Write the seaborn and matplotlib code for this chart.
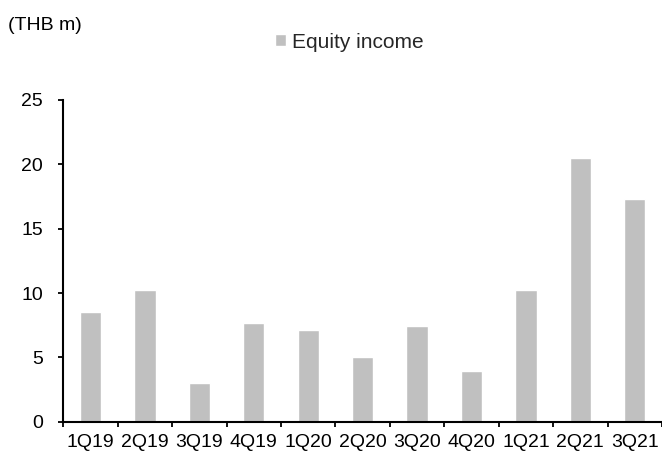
import numpy as np
import pandas as pd
import matplotlib
matplotlib.use("Agg")
import matplotlib.pyplot as plt
import seaborn as sns

quarters = ["1Q19", "2Q19", "3Q19", "4Q19", "1Q20", "2Q20", "3Q20", "4Q20", "1Q21", "2Q21", "3Q21"]
equity_income = [8.5, 10.2, 3.0, 7.7, 7.1, 5.0, 7.4, 3.9, 10.2, 20.5, 17.3]
y_ticks = [0, 5, 10, 15, 20, 25]

sns.set_theme(style="white")
plt.rcParams["font.family"] = ["Liberation Sans", "DejaVu Sans"]

df = pd.DataFrame({"quarter": quarters, "value": equity_income})

fig = plt.figure(figsize=(6.62, 4.58), dpi=100)
ax = fig.add_axes([0.0957, 0.0793, 0.9043, 0.7024])

sns.barplot(data=df, x="quarter", y="value", color="#C0C0C0", width=0.39,
            saturation=1, label="Equity income", ax=ax)

ax.set_xlim(-0.5, len(quarters) - 0.5)
ax.set_ylim(0, 25)
ax.set_yticks(y_ticks)
ax.set_xlabel("")
ax.set_ylabel("")

# category separators as ticks on the x axis
ax.set_xticks(np.arange(-0.5, len(quarters), 1.0), minor=True)
ax.tick_params(axis="x", which="major", length=0, labelsize=14, pad=9, colors="black")
ax.tick_params(axis="x", which="minor", length=3.6, width=1.3, direction="out", color="black", bottom=True)
ax.tick_params(axis="y", which="major", length=3.6, width=1.3, direction="out", color="black",
               left=True, labelsize=14, pad=11, labelcolor="black")

for side in ["top", "right"]:
    ax.spines[side].set_visible(False)
for side in ["left", "bottom"]:
    ax.spines[side].set_color("black")
    ax.spines[side].set_linewidth(1.5)

if ax.get_legend():
    ax.get_legend().remove()
handles, labels = ax.get_legend_handles_labels()
fig.legend(handles[:1], labels[:1], loc="center", bbox_to_anchor=(0.528, 0.908),
           frameon=False, fontsize=15, handlelength=0.5, handleheight=0.5,
           handletextpad=0.3, borderaxespad=0)

fig.text(0.012, 0.945, "(THB m)", fontsize=14, ha="left", va="center", color="black")

fig.savefig("out.png", dpi=100)
